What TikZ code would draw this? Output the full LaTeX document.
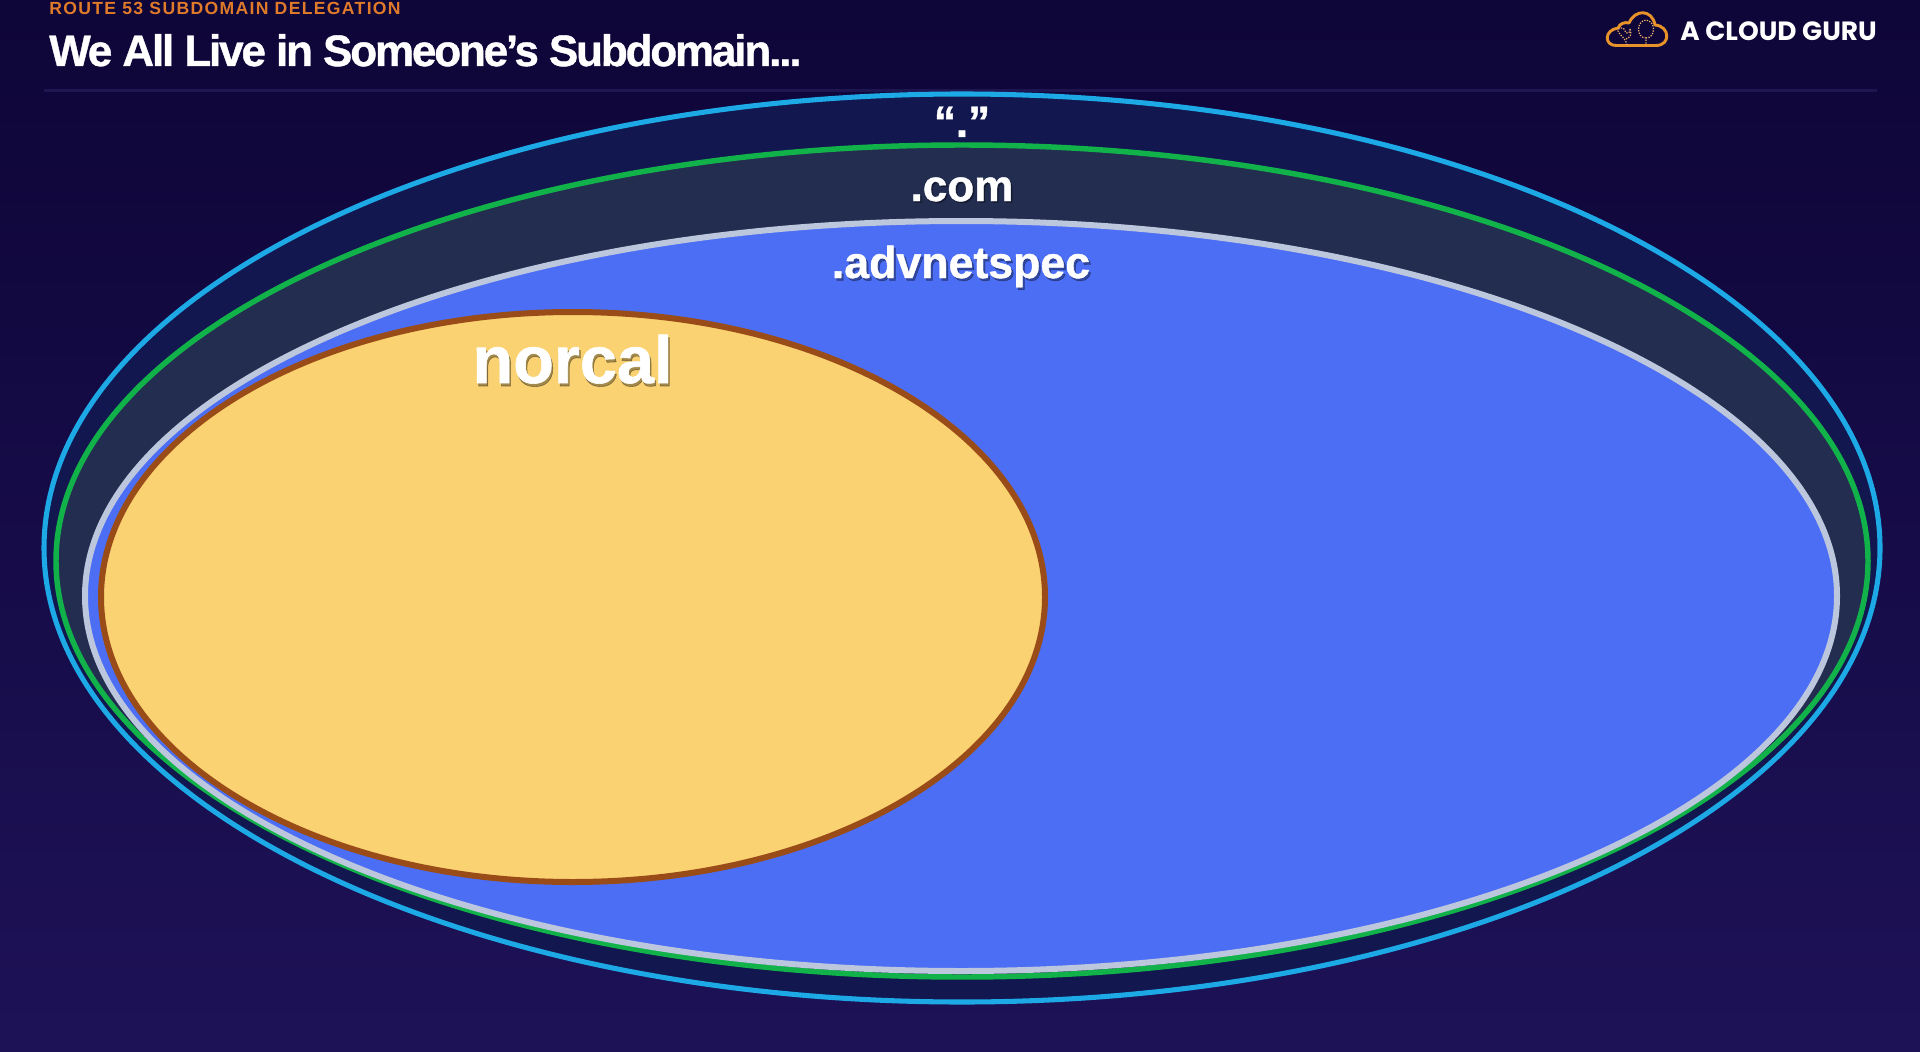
\documentclass[tikz,border=0pt]{standalone}
\usepackage{fontspec}
\setmainfont{Liberation Sans}
\newfontfamily\heavyfont[FakeBold=0.9]{Liberation Sans Bold}
\newfontfamily\logofont{Poppins}
\definecolor{bgtop}{HTML}{0E0538}
\definecolor{bgbot}{HTML}{1E1257}
\definecolor{ringblue}{HTML}{1CA9E6}
\definecolor{fillblue}{HTML}{12174F}
\definecolor{ringgreen}{HTML}{12B24A}
\definecolor{fillgreen}{HTML}{232D50}
\definecolor{ringsilver}{HTML}{BCC6DC}
\definecolor{fillsilver}{HTML}{4C6EF5}
\definecolor{ringbrown}{HTML}{9A4C18}
\definecolor{fillyellow}{HTML}{FAD272}
\definecolor{orangetxt}{HTML}{E07A2B}
\definecolor{logoorange}{HTML}{E8922A}
\definecolor{rulecol}{HTML}{1E1650}
\tikzset{
  x=0.75pt,y=-0.75pt,
  lbltext/.style={inner sep=0pt,anchor=base,text=white},
  lblshadow/.style={inner sep=0pt,anchor=base,text=black,opacity=.35},
  treedot/.style={draw=logoorange!70!white,line width=.9pt,dash pattern=on 1pt off 1pt},
}
\begin{document}
\begin{tikzpicture}
\useasboundingbox (0,0) rectangle (1920,1052);
\shade[top color=bgtop,bottom color=bgbot] (0,0) rectangle (1920,1052);
\draw[rulecol,line width=2.6pt] (44,90.5) -- (1877,90.5);
\node[inner sep=0pt,anchor=base west,text=orangetxt,font=\bfseries\fontsize{13.2}{14}\selectfont] (kicker) at (49,15) {\addfontfeature{LetterSpace=7.5}ROUTE 53 SUBDOMAIN DELEGATION};
\node[inner sep=0pt,anchor=base west,text=white,font=\heavyfont\fontsize{33}{36}\selectfont] (title) at (49,66) {\addfontfeature{LetterSpace=-4.9}We All Live in Someone’s Subdomain...};
% logo
\draw[logoorange,line width=2.2pt,line join=round] (1616,45.5) .. controls (1604,45.5) and (1604,30) .. (1618,28) .. controls (1620,23) and (1625,22) .. (1629,23) .. controls (1635,9) and (1652,9) .. (1655,25) .. controls (1670,26) and (1671,45.5) .. (1656,45.5) -- cycle;
\draw[treedot] (1627,45) .. controls (1626,38) and (1620,36) .. (1618,31) .. controls (1617,27) and (1625,27) .. (1625,31) .. controls (1625,34) and (1631,34) .. (1630,29);
\draw[treedot] (1626,39) .. controls (1630,38) and (1632,34) .. (1630,29);
\draw[treedot] (1646,38) .. controls (1636,38) and (1636,21) .. (1646,20) .. controls (1656,21) and (1656,38) .. (1646,38) -- (1646,45);
\node[inner sep=0pt,anchor=base west,text=white,font=\logofont\bfseries\fontsize{19.8}{20}\selectfont] (brand) at (1680,41) {A CLOUD GURU};
% ellipses
\draw[line width=3.8pt,draw=ringblue,fill=fillblue] (962,548) ellipse [x radius=918,y radius=454];
\draw[line width=4.1pt,draw=ringgreen,fill=fillgreen] (962,561) ellipse [x radius=906,y radius=416];
\draw[line width=4.5pt,draw=ringsilver,fill=fillsilver] (961,596) ellipse [x radius=876,y radius=375];
\draw[line width=4.5pt,draw=ringbrown,fill=fillyellow] (573,597) ellipse [x radius=472,y radius=285];
% labels
\node[lbltext,font=\heavyfont\fontsize{33}{36}\selectfont] (dot) at (962,137) {“.”};
\node[lblshadow,font=\heavyfont\fontsize{33}{36}\selectfont] at (963.5,202.5) {.com};
\node[lbltext,font=\heavyfont\fontsize{33}{36}\selectfont] (com) at (962,201) {.com};
\node[lblshadow,font=\heavyfont\fontsize{33.5}{36}\selectfont] at (963,280.5) {.advnetspec};
\node[lbltext,font=\heavyfont\fontsize{33.5}{36}\selectfont] (adv) at (961,278) {.advnetspec};
\node[lblshadow,font=\heavyfont\fontsize{50}{52}\selectfont] at (574,386) {norcal};
\node[lbltext,font=\heavyfont\fontsize{50}{52}\selectfont] (norcal) at (572.5,383) {norcal};
\end{tikzpicture}
\end{document}
